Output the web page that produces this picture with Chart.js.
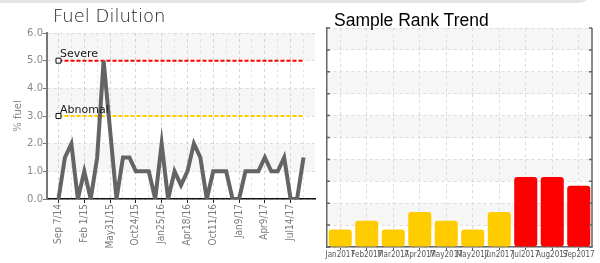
<!DOCTYPE html>
<html>
<head>
<meta charset="utf-8">
<script src="https://cdn.jsdelivr.net/npm/chart.js@4.4.0/dist/chart.umd.min.js"></script>
<style>
  html, body { margin: 0; padding: 0; background: #fff; }
  body { width: 600px; height: 263px; position: relative; overflow: hidden; }
  #topbar { position: absolute; left: -10px; top: -8px; width: 600px; height: 11px; background: #e4e4e4; border-radius: 0 0 12px 0; }
  .title { position: absolute; white-space: nowrap; z-index: 2; }
  #fuelTitle { left: 53px; top: 5px; font: 200 18px "DejaVu Sans", sans-serif; color: #222; }
  #rankTitle { left: 334px; top: 10px; font: 17.5px "Liberation Sans", Arial, sans-serif; color: #000; }
  #fuelBox { position: absolute; left: 0; top: 0; width: 320px; height: 263px; }
  #rankBox { position: absolute; left: 320px; top: 0; width: 280px; height: 263px; }
</style>
</head>
<body>
<div id="topbar"></div>
<div class="title" id="fuelTitle">Fuel Dilution</div>
<div class="title" id="rankTitle">Sample Rank Trend</div>
<div id="fuelBox"><canvas id="fuelChart" width="320" height="263"></canvas></div>
<div id="rankBox"><canvas id="rankChart" width="280" height="263"></canvas></div>
<script>
// ---- data: fuel dilution (one label every 4th sample, the rest are not shown)
const fuelDates = [
  'Sep 7/14', '', '', '',
  'Feb 1/15', '', '', '',
  'May31/15', '', '', '',
  'Oct24/15', '', '', '',
  'Jan25/16', '', '', '',
  'Apr18/16', '', '', '',
  'Oct11/16', '', '', '',
  'Jan9/17', '', '', '',
  'Apr9/17', '', '', '',
  'Jul14/17', '', ''
];
const fuelValues = [0, 1.5, 2, 0, 1, 0, 1.5, 5, 2.5, 0,
                    1.5, 1.5, 1, 1, 1, 0, 2, 0, 1, 0.5,
                    1, 2, 1.5, 0, 1, 1, 1, 0, 0, 1,
                    1, 1, 1.5, 1, 1, 1.5, 0, 0, 1.5];
const limitNames = ['Severe', 'Abnomal'];
const limitValues = [5.0, 3.0];
const fuelTicks = [0, 1, 2, 3, 4, 5, 6];

// ---- data: sample rank trend
const rankMonths = ['Jan2017', 'Feb2017', 'Mar2017', 'Apr2017', 'May2017',
                    'May2017', 'Jun2017', 'Jul2017', 'Aug2017', 'Sep2017'];
const rankValues = [2, 3, 2, 4, 3, 2, 4, 8, 8, 7];

const narrowFont = '"DejaVu Sans Condensed", "Liberation Sans Narrow", sans-serif';
Chart.defaults.font.family = '"DejaVu Sans", sans-serif';

// alternating light bands between y ticks, starting at the top
const bandPlugin = {
  id: 'bands',
  beforeDraw(chart) {
    const {ctx, chartArea: a, scales: {y}} = chart;
    const px = y.ticks.map(t => y.getPixelForValue(t.value)).sort((p, q) => p - q);
    ctx.save();
    ctx.fillStyle = '#f6f6f6';
    for (let i = 0; i < px.length - 1; i += 2) {
      ctx.fillRect(a.left, px[i], a.right - a.left, px[i + 1] - px[i]);
    }
    ctx.restore();
  }
};

// text for the limit lines
const limitLabels = {
  id: 'limitLabels',
  afterDatasetsDraw(chart) {
    const {ctx, scales: {x, y}} = chart;
    ctx.save();
    ctx.font = '11px "DejaVu Sans", sans-serif';
    ctx.fillStyle = '#1a1a1a';
    limitNames.forEach((n, i) => {
      ctx.fillText(n, x.getPixelForValue(0) + 1.5, y.getPixelForValue(limitValues[i]) - 3.5);
    });
    ctx.restore();
  }
};

function limitSet(i, color) {
  return {
    label: limitNames[i],
    data: [{x: 0, y: limitValues[i]}, {x: fuelValues.length - 1, y: limitValues[i]}],
    borderColor: color,
    borderWidth: 2,
    borderDash: [4, 2],
    pointStyle: 'rect',
    pointRadius: c => c.dataIndex === 0 ? 3.5 : 0,
    pointBackgroundColor: '#fff',
    pointBorderColor: '#111',
    pointBorderWidth: 1
  };
}

new Chart(document.getElementById('fuelChart'), {
  type: 'line',
  data: {
    datasets: [
      {
        label: '% fuel',
        data: fuelValues.map((v, i) => ({x: i, y: v})),
        borderColor: '#646464',
        borderWidth: 4,
        pointRadius: 0,
        tension: 0
      },
      limitSet(0, '#ff0000'),
      limitSet(1, '#ffcc00')
    ]
  },
  options: {
    responsive: false,
    animation: false,
    devicePixelRatio: 1,
    layout: {padding: {top: 33, right: 5, left: 0, bottom: 0}},
    plugins: {legend: {display: false}, tooltip: {enabled: false}},
    scales: {
      x: {
        type: 'linear',
        min: -1.78,
        max: fuelValues.length - 1 + 1.78,
        afterBuildTicks: s => {
          s.ticks = fuelDates.map((d, i) => ({value: i})).filter(t => t.value % 2 === 0);
        },
        afterFit: s => { s.height = 64; },
        ticks: {
          autoSkip: false,
          minRotation: 90,
          maxRotation: 90,
          padding: 1,
          color: '#7a7a7a',
          font: {family: narrowFont, size: 10},
          callback: v => fuelDates[v] || ''
        },
        grid: {
          color: c => (c.tick && c.tick.value % 4 === 0) ? '#d2d2d2' : '#e4e4e4',
          tickLength: 4,
          tickColor: c => (c.tick && fuelDates[c.tick.value]) ? '#222' : 'rgba(0,0,0,0)'
        },
        border: {color: '#111', width: 1.5, dash: [3, 3]}
      },
      y: {
        min: 0,
        max: 6,
        afterBuildTicks: s => { s.ticks = fuelTicks.map(v => ({value: v})); },
        afterFit: s => { s.width = 47; },
        ticks: {
          padding: 0,
          color: '#8a8a8a',
          font: {size: 10},
          callback: v => v.toFixed(1)
        },
        grid: {color: '#dcdcdc', tickLength: 4, tickColor: '#777'},
        border: {color: '#777', width: 2, dash: [3, 3]},
        title: {display: true, text: '% fuel', color: '#888', font: {size: 10}, padding: {top: 12, bottom: 0}}
      }
    }
  },
  plugins: [bandPlugin, limitLabels]
});

// right frame line and small inward ticks on both sides
const frameTicks = {
  id: 'frameTicks',
  afterDraw(chart) {
    const {ctx, chartArea: a, scales: {y}} = chart;
    ctx.save();
    ctx.strokeStyle = '#666';
    ctx.lineWidth = 1.5;
    ctx.beginPath();
    ctx.moveTo(a.right, a.top);
    ctx.lineTo(a.right, a.bottom);
    y.ticks.forEach(t => {
      const p = y.getPixelForValue(t.value);
      ctx.moveTo(a.left, p); ctx.lineTo(a.left + 3, p);
      ctx.moveTo(a.right - 3, p); ctx.lineTo(a.right, p);
    });
    ctx.stroke();
    ctx.restore();
  }
};

new Chart(document.getElementById('rankChart'), {
  type: 'bar',
  data: {
    labels: rankMonths,
    datasets: [{
      data: rankValues,
      backgroundColor: rankValues.map(v => v >= 7 ? '#ff0000' : '#ffcc00'),
      borderRadius: 3,
      borderSkipped: false,
      barPercentage: 0.87,
      categoryPercentage: 1
    }]
  },
  options: {
    responsive: false,
    animation: false,
    devicePixelRatio: 1,
    layout: {padding: {top: 28, right: 8, left: 7, bottom: 0}},
    plugins: {legend: {display: false}, tooltip: {enabled: false}},
    scales: {
      x: {
        afterFit: s => { s.height = 16; },
        ticks: {
          autoSkip: false,
          minRotation: 0,
          maxRotation: 0,
          padding: 0,
          color: '#555',
          font: {family: narrowFont, size: 8}
        },
        grid: {offset: false, color: '#dcdcdc', tickLength: 3, tickColor: '#555'},
        border: {color: '#666', width: 1.5, dash: [3, 3]}
      },
      y: {
        min: 0,
        max: 25,
        afterFit: s => { s.width = 0; },
        ticks: {display: false, stepSize: 2.5},
        grid: {color: '#dcdcdc', drawTicks: false},
        border: {color: '#666', width: 1.5, dash: [3, 3]}
      }
    }
  },
  plugins: [bandPlugin, frameTicks]
});
</script>
</body>
</html>
